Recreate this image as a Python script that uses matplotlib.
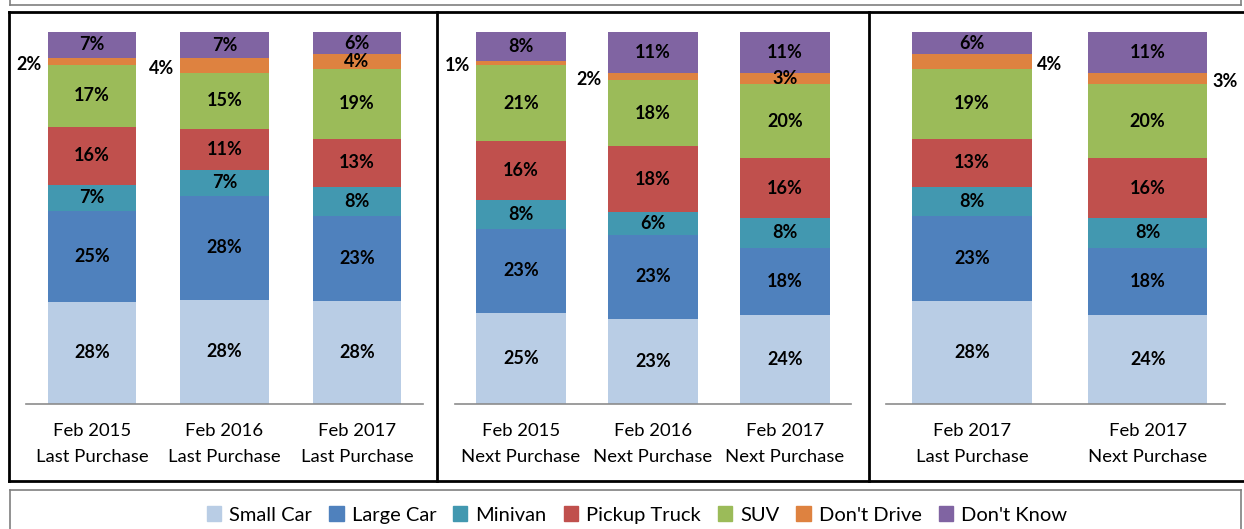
import numpy as np
from matplotlib import pyplot as plt
from matplotlib.patches import Rectangle
from matplotlib.lines import Line2D

plt.rcParams['font.family'] = ['Lato', 'DejaVu Sans']

series = ["Small Car", "Large Car", "Minivan", "Pickup Truck", "SUV", "Don't Drive", "Don't Know"]
colors = ["#B9CDE5", "#4F81BD", "#4298B0", "#C0504D", "#9BBB59", "#DE8240", "#8064A2"]

# panel 1: last purchase by year
p1_labels = ["Feb 2015\nLast Purchase", "Feb 2016\nLast Purchase", "Feb 2017\nLast Purchase"]
p1_values = [[28, 25, 7, 16, 17, 2, 7],
             [28, 28, 7, 11, 15, 4, 7],
             [28, 23, 8, 13, 19, 4, 6]]
p1_dd_pos = ["left", "left", "in"]

# panel 2: next purchase by year
p2_labels = ["Feb 2015\nNext Purchase", "Feb 2016\nNext Purchase", "Feb 2017\nNext Purchase"]
p2_values = [[25, 23, 8, 16, 21, 1, 8],
             [23, 23, 6, 18, 18, 2, 11],
             [24, 18, 8, 16, 20, 3, 11]]
p2_dd_pos = ["left", "left", "in"]

# panel 3: 2017 last vs next
p3_labels = ["Feb 2017\nLast Purchase", "Feb 2017\nNext Purchase"]
p3_values = [[28, 23, 8, 13, 19, 4, 6],
             [24, 18, 8, 16, 20, 3, 11]]
p3_dd_pos = ["right", "right"]

W, H = 1244, 529
fig = plt.figure(figsize=(W / 100, H / 100), dpi=100)


def px_axes(x0, x1, ytop, ybot):
    return fig.add_axes([x0 / W, 1 - ybot / H, (x1 - x0) / W, (ybot - ytop) / H])


def draw_panel(ax, labels, values, dd_pos, width, xlim):
    x = np.arange(len(labels))
    for i, vals in enumerate(values):
        vals = np.array(vals, dtype=float)
        heights = vals / vals.sum() * 100  # 100% stacked, like Excel
        bottom = 0
        for j, h in enumerate(heights):
            ax.bar(x[i], h, width, bottom=bottom, color=colors[j], edgecolor='none')
            mid = bottom + h / 2
            txt = f"{int(vals[j])}%"
            if j == 5 and dd_pos[i] == "left":
                ax.annotate(txt, (x[i] - width / 2, mid), xytext=(-6, -3), textcoords='offset pixels',
                            ha='right', va='center', fontsize=13, fontweight='bold')
            elif j == 5 and dd_pos[i] == "right":
                ax.annotate(txt, (x[i] + width / 2, mid), xytext=(5, -3), textcoords='offset pixels',
                            ha='left', va='center', fontsize=13, fontweight='bold')
            else:
                ax.text(x[i], mid, txt, ha='center', va='center', fontsize=13, fontweight='bold')
            bottom += h
    ax.set_ylim(0, 100)
    ax.set_xlim(*xlim)
    ax.set_xticks(x)
    ax.set_xticklabels(labels, fontsize=13.3, linespacing=1.7)
    ax.tick_params(axis='x', length=0, pad=14)
    ax.set_yticks([])
    for s in ['top', 'left', 'right']:
        ax.spines[s].set_visible(False)
    ax.spines['bottom'].set_color('#8C8C8C')
    ax.spines['bottom'].set_linewidth(1.2)


ax1 = px_axes(26, 423, 32, 404)
draw_panel(ax1, p1_labels, p1_values, p1_dd_pos, 0.67, (-0.5, 2.5))
ax2 = px_axes(455, 851, 32, 404)
draw_panel(ax2, p2_labels, p2_values, p2_dd_pos, 0.68, (-0.5, 2.5))
ax3 = px_axes(886, 1225, 32, 404)
draw_panel(ax3, p3_labels, p3_values, p3_dd_pos, 0.68, (-0.49, 1.44))

# frames around panels
tf = fig.transFigure
def fline(xs, ys, color='black', lw=2):
    fig.add_artist(Line2D([v / W for v in xs], [1 - v / H for v in ys], color=color, lw=lw, transform=tf))

fline([9, W], [12, 12])
fline([9, W], [481, 481])
for xv in [9, 437, 869]:
    fline([xv, xv], [12, 481])

# bits of the boxes above and below
fline([10, 1241], [5, 5], color='#7F7F7F', lw=1.2)
fline([10, 10], [0, 5], color='#7F7F7F', lw=1.2)
fline([1241, 1241], [0, 5], color='#7F7F7F', lw=1.2)
fline([10, 1241], [490, 490], color='#7F7F7F', lw=1.2)
fline([10, 10], [490, H], color='#7F7F7F', lw=1.2)
fline([1241, 1241], [490, H], color='#7F7F7F', lw=1.2)

handles = [Rectangle((0, 0), 1, 1, color=c) for c in colors]
fig.legend(handles, series, loc='center', bbox_to_anchor=(637 / W, 1 - 515 / H), ncol=7,
           frameon=False, fontsize=14.5, handlelength=0.7, handleheight=0.7,
           handletextpad=0.4, columnspacing=0.85)

fig.savefig("out.png", dpi=100)
plt.close()
